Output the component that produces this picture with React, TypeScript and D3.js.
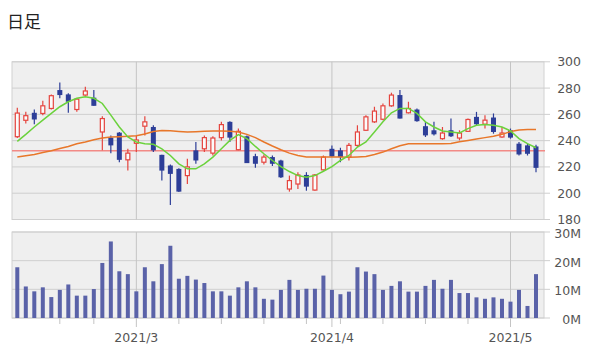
import React from "react";
import * as d3 from "d3";

// ---- data ----
const opens = [243, 255.5, 261.2, 260.7, 264.5, 278.5, 275.2, 263.7, 274.7, 272.7, 246.6, 242.3, 246.1, 225.4, 238, 251, 250.4, 229.2, 221.1, 218.5, 213.4, 232.6, 233.8, 230.5, 242.3, 254.3, 233.1, 243.3, 228.2, 223.6, 227.5, 224.9, 203.2, 207, 213.9, 202.4, 217.8, 233.8, 232.6, 227.5, 236.4, 247.9, 254.3, 256.3, 266.5, 274.7, 261.2, 263.7, 251, 247.9, 241.5, 247.9, 242, 247.1, 258.1, 252.5, 257.6, 242.8, 247.9, 237.7, 236.4, 235.6];
const highs = [265, 262, 263.7, 270.4, 275.2, 284.2, 276, 272.2, 281, 278.5, 258.6, 244, 246.6, 233.8, 244, 258.6, 251.7, 229.2, 221.8, 219, 226.2, 239, 244, 243.3, 254.3, 254.8, 249.2, 244, 230, 229.5, 228.7, 225.4, 213.4, 216, 216, 214.7, 228.7, 236.4, 234.6, 238.2, 251.7, 259.4, 265.8, 268.3, 276.5, 278.5, 269.6, 264.5, 254.3, 254.3, 250.4, 256.8, 247.9, 256.8, 261.9, 259.4, 260.7, 250.4, 249.2, 239, 237.7, 236.9];
const lows = [242, 253, 252.5, 259.4, 263.7, 272.2, 261.2, 262, 274.2, 266.5, 232.6, 230.5, 223.6, 217.2, 231.3, 244, 231.3, 209.6, 191, 201, 207, 222.4, 231.3, 228.7, 240.2, 239, 232.6, 222.9, 219.3, 221.8, 220.8, 211.6, 201.2, 203.2, 201.9, 201.9, 217.2, 227.5, 223.6, 224.9, 235.1, 247.4, 253.5, 255.6, 265.8, 256.8, 260.7, 254.3, 242.8, 244, 240.7, 242.8, 240.2, 246.6, 251.7, 249.2, 245.3, 242.3, 241.5, 228.7, 228.7, 216];
const closes = [261, 259, 256.1, 266.5, 274.2, 274.7, 269.6, 271.6, 277.8, 266.5, 256.8, 236.4, 225.4, 230.5, 240.5, 254.3, 232.6, 217.2, 214.7, 201.2, 220, 224.9, 242.3, 242, 252.2, 242.3, 247.1, 222.9, 222.4, 227.5, 222.4, 212.1, 209.6, 213.9, 205, 213.9, 227.5, 227.9, 227.5, 236.4, 246.6, 258.1, 262.5, 266.5, 274.7, 256.8, 264.5, 254.8, 244, 244.8, 245.8, 243.3, 245.8, 256.1, 252.5, 255.6, 246.6, 245.8, 242.3, 229.5, 230, 219.3];
const volumes = [17.7, 11.0, 9.3, 10.7, 7.3, 9.8, 11.7, 7.8, 7.8, 10.1, 19.2, 26.7, 16.3, 15.3, 9.3, 17.7, 12.8, 18.8, 25.2, 13.7, 14.7, 13.4, 12.2, 9.3, 9.3, 7.8, 10.7, 12.8, 10.7, 6.7, 6.4, 9.8, 13.3, 9.8, 10.2, 10.2, 14.8, 9.8, 8.3, 9.2, 17.7, 16.2, 15.3, 9.8, 11.2, 12.8, 9.2, 9.2, 11.2, 13.3, 10.2, 13.3, 8.7, 8.7, 7.2, 6.7, 7.2, 6.7, 5.7, 9.8, 4.2, 15.3];
const maShort = [239.5, 244.8, 250.4, 255.6, 260.7, 265.8, 269.6, 272.2, 273.4, 272.2, 268.3, 259.4, 250.4, 242.8, 239, 237.7, 237.2, 233.8, 228.7, 222.4, 218.6, 218.6, 222.4, 227.5, 233.8, 240.2, 244.6, 241.5, 235.6, 230, 224.9, 220.3, 216.5, 213.4, 212.1, 213.4, 216.7, 220.3, 224.9, 228.7, 235.1, 239, 246.6, 254.3, 261.2, 264.5, 264.5, 260.7, 254.3, 250.4, 247.4, 246.6, 245.8, 249.2, 251.7, 252.2, 251.7, 250.4, 247.4, 241.5, 237.7, 234.6];
const maLong = [227.5, 228.5, 229.5, 231, 232.3, 234, 235.6, 237.7, 239, 240.7, 242, 242.8, 243, 243.3, 243.8, 245, 247, 247.8, 247.5, 247, 246.6, 246.8, 247.1, 247.3, 247.4, 247.2, 246.6, 244.8, 242.3, 239, 235.9, 233.1, 230.5, 228.7, 227.5, 227.5, 227.5, 227.5, 227.5, 227.3, 227.6, 228, 229.5, 231.3, 233.8, 236.1, 237.7, 237.7, 237.7, 237.7, 237.7, 237.8, 239.2, 240.2, 241.3, 242.3, 243.3, 244.8, 246.9, 248.1, 248.4, 248.4];
const refLevel = [232.3];
const priceTicks = [180, 200, 220, 240, 260, 280, 300];
const volumeTicks = [0, 10, 20, 30];
const monthTickIndex = [14, 37, 58];
const monthTickLabels = ["2021/3", "2021/4", "2021/5"];
const weekTickIndex = [5, 9, 19, 24, 29, 34, 38, 43, 48, 53];

const LEFT = 12;
const RIGHT = 544;

export default function App() {
  const n = closes.length;
  const x = d3.scaleLinear().domain([0, n - 1]).range([17.3, 536]);
  const yP = d3.scaleLinear().domain([180, 300]).range([219.5, 61.8]);
  const yV = d3.scaleLinear().domain([0, 30]).range([318, 232]);
  const idx = d3.range(n);

  const line = (arr: number[]) =>
    d3
      .line<number>()
      .x((_, i) => x(i))
      .y((d) => yP(d))(arr) as string;

  const red = "#e5443e";
  const blue = "#2d3e98";
  const labelFont = "'DejaVu Sans', Verdana, sans-serif";

  return (
    <svg
      width={600}
      height={355}
      style={{ position: "absolute", left: 0, top: 0, background: "#fff" }}
    >
      <text x={7} y={28} fontFamily="'Noto Sans CJK JP', sans-serif" fontSize={17} fill="#222">
        日足
      </text>

      {/* price panel */}
      <rect
        x={LEFT}
        y={yP(300)}
        width={RIGHT - LEFT}
        height={yP(180) - yP(300)}
        fill="#efefef"
        stroke="#d2d2d2"
      />
      {priceTicks.map((t) => (
        <g key={"p" + t}>
          <line x1={LEFT} x2={RIGHT + 6} y1={yP(t)} y2={yP(t)} stroke="#cfcfcf" strokeWidth={1} />
          <text
            x={581}
            y={yP(t)}
            dy="0.36em"
            textAnchor="end"
            fontFamily={labelFont}
            fontSize={12.5}
            fill="#555"
          >
            {t}
          </text>
        </g>
      ))}
      {monthTickIndex.map((m) => (
        <line key={"mp" + m} x1={x(m)} x2={x(m)} y1={yP(300)} y2={yP(180)} stroke="#c4c4c4" />
      ))}

      {/* volume panel */}
      <rect
        x={LEFT}
        y={yV(30)}
        width={RIGHT - LEFT}
        height={yV(0) - yV(30)}
        fill="#efefef"
        stroke="#d2d2d2"
      />
      {volumeTicks.map((t) => (
        <g key={"v" + t}>
          <line x1={LEFT} x2={RIGHT + 6} y1={yV(t)} y2={yV(t)} stroke="#cfcfcf" strokeWidth={1} />
          <text
            x={581}
            y={yV(t) + 1.5}
            dy="0.36em"
            textAnchor="end"
            fontFamily={labelFont}
            fontSize={12.5}
            fill="#555"
          >
            {t + "M"}
          </text>
        </g>
      ))}
      {monthTickIndex.map((m, k) => (
        <g key={"mv" + m}>
          <line x1={x(m)} x2={x(m)} y1={yV(30)} y2={327} stroke="#c4c4c4" />
          <text
            x={x(m)}
            y={342}
            textAnchor="middle"
            fontFamily={labelFont}
            fontSize={12.5}
            fill="#555"
          >
            {monthTickLabels[k]}
          </text>
        </g>
      ))}
      {weekTickIndex.map((w) => (
        <line key={"w" + w} x1={x(w)} x2={x(w)} y1={yV(0)} y2={324} stroke="#c4c4c4" />
      ))}
      {idx.map((i) => (
        <rect
          key={"vb" + i}
          x={x(i) - 2}
          y={yV(volumes[i])}
          width={4}
          height={yV(0) - yV(volumes[i])}
          fill="#5a62a8"
        />
      ))}

      {/* reference level */}
      {refLevel.map((r, k) => (
        <line key={"r" + k} x1={LEFT} x2={RIGHT + 1} y1={yP(r)} y2={yP(r)} stroke="#f28a86" strokeWidth={1.5} />
      ))}

      {/* candles */}
      {idx.map((i) => {
        const up = closes[i] >= opens[i];
        const c = up ? red : blue;
        const top = yP(Math.max(opens[i], closes[i]));
        const bot = yP(Math.min(opens[i], closes[i]));
        return (
          <g key={"c" + i}>
            <line x1={x(i)} x2={x(i)} y1={yP(highs[i])} y2={yP(lows[i])} stroke={c} strokeWidth={1.2} />
            {up ? (
              <rect
                x={x(i) - 2}
                y={top}
                width={4}
                height={Math.max(1, bot - top)}
                fill="#fbfbfb"
                stroke={c}
                strokeWidth={1.2}
              />
            ) : (
              <rect x={x(i) - 2.5} y={top} width={5} height={Math.max(1, bot - top)} fill={c} />
            )}
          </g>
        );
      })}

      {/* moving averages */}
      <path d={line(maLong)} fill="none" stroke="#e8772a" strokeWidth={1.5} />
      <path d={line(maShort)} fill="none" stroke="#6bd23c" strokeWidth={1.5} />
    </svg>
  );
}
